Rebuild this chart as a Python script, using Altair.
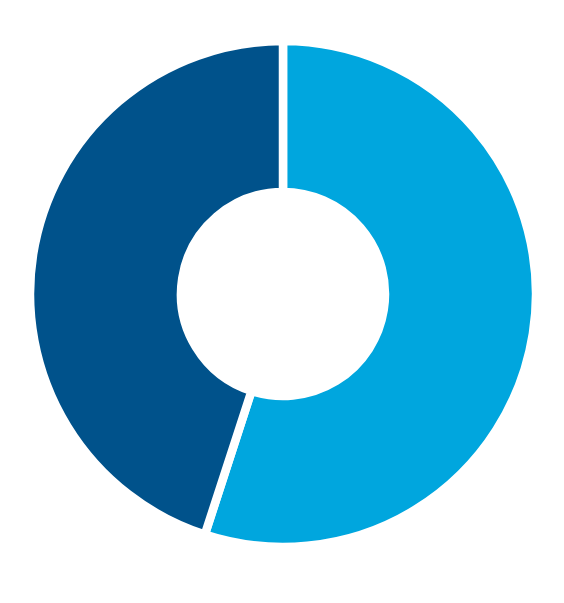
import altair as alt
import pandas as pd


'''
Donut slices, clockwise from the top
'''
segments = ['A', 'B']
shares = [55, 45]
colors = ['#00a6de', '#00528b']

df = pd.DataFrame({
  'segment': segments,
  'share': shares,
  'rank': [0, 1],
})

chart = alt.Chart(df).mark_arc(
  outerRadius=253,
  innerRadius=102,
  stroke='white',
  strokeWidth=8.5
).encode(
  theta=alt.Theta('share:Q', stack=True),
  order=alt.Order('rank:Q'),
  color=alt.Color(
    'segment:N',
    scale=alt.Scale(domain=segments, range=colors),
    legend=None
  ),
  x=alt.value(275),
  y=alt.value(286)
).properties(
  width=548,
  height=587,
  padding=0,
  autosize=alt.AutoSizeParams(type='none')
).configure_view(
  stroke=None
)

chart.save("out.html", embed_options={"renderer": "svg", "actions": False})
